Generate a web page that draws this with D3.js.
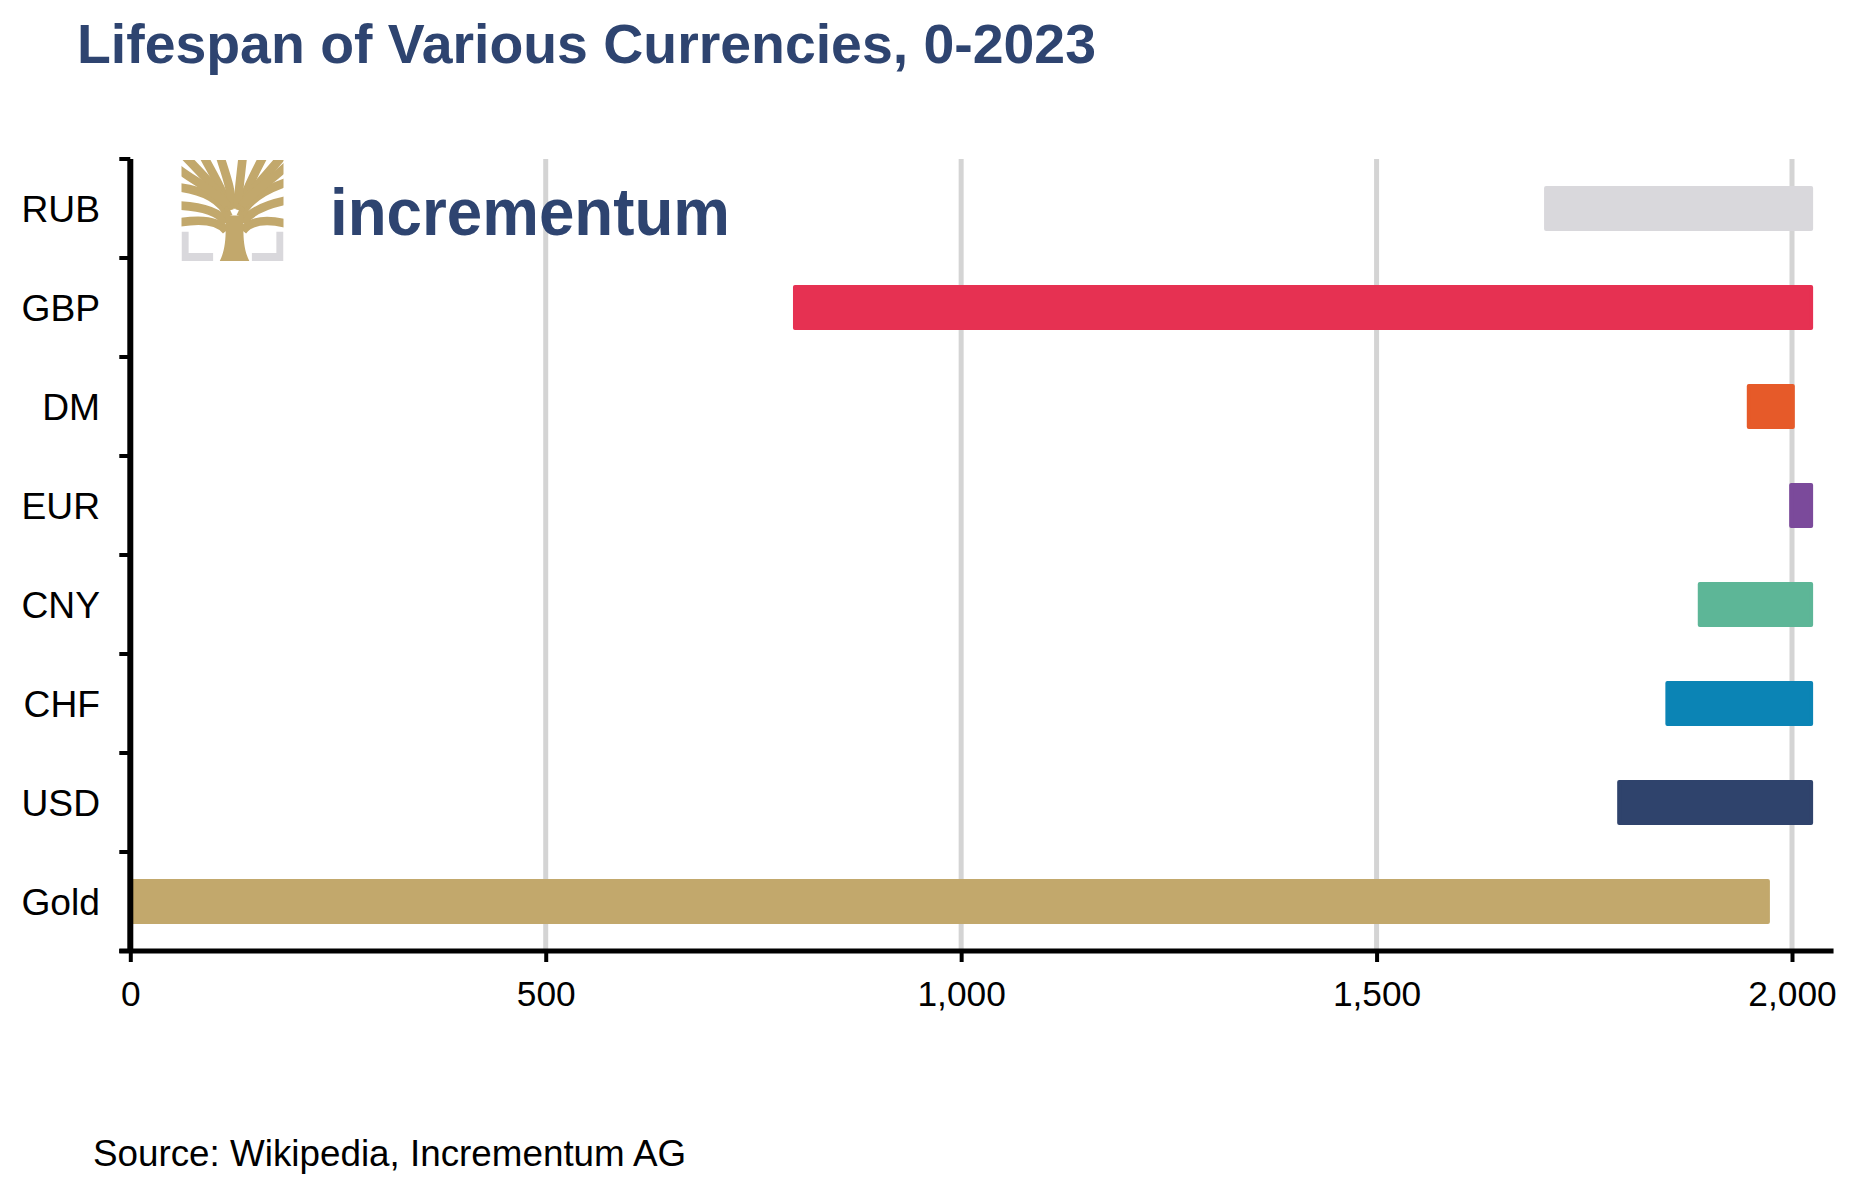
<!DOCTYPE html>
<html>
<head>
<meta charset="utf-8">
<script src="https://cdn.jsdelivr.net/npm/d3@7"></script>
<style>
  html, body { margin: 0; padding: 0; background: #ffffff; }
  svg { display: block; }
</style>
</head>
<body>
<svg id="chart" width="1850" height="1184"></svg>
<script>
// ---- data ----
const categories = ["RUB", "GBP", "DM", "EUR", "CNY", "CHF", "USD", "Gold"];
const startYears = [1704, 800, 1948, 1999, 1889, 1850, 1792, 0];
const endYears   = [2023, 2023, 2001, 2023, 2023, 2023, 2023, 1971];
const barColors  = ["#d9d8dc", "#e63152", "#e65a29", "#7b4a9b", "#5db697", "#0b84b5", "#2f436c", "#c2a86c"];
const tickValues = [0, 500, 1000, 1500, 2000];
const titleText  = "Lifespan of Various Currencies, 0-2023";
const sourceText = "Source: Wikipedia, Incrementum AG";
const logoText   = "incrementum";

const FONT = "'Liberation Sans', Arial, Helvetica, sans-serif";
const svg = d3.select("#chart");

const x = d3.scaleLinear().domain([0, 2000]).range([130.3, 1792]);
const y = d3.scaleBand().domain(categories).range([159, 951]).padding(0);
const barH = 41;

// title
svg.append("text")
  .attr("x", 77).attr("y", 63)
  .attr("font-family", FONT).attr("font-weight", "bold")
  .attr("font-size", 55.4).attr("fill", "#2e4470")
  .text(titleText);

// gridlines
svg.append("g").selectAll("line")
  .data(tickValues.filter(d => d > 0))
  .join("line")
  .attr("x1", d => x(d)).attr("x2", d => x(d))
  .attr("y1", y.range()[0]).attr("y2", y.range()[1])
  .attr("stroke", "#d4d4d4").attr("stroke-width", 5);

// logo
const logo = svg.append("g").attr("transform", "translate(181.5,160) scale(1.02,1.01)");
logo.append("clipPath").attr("id", "iconclip")
  .append("rect").attr("x", 0).attr("y", 0).attr("width", 100).attr("height", 100);
const icon = logo.append("g").attr("clip-path", "url(#iconclip)");
const gold = "#c2a86c", grey = "#d9d8dc";
icon.append("path").attr("fill", grey)
  .attr("d", "M0,71 L7,71 L7,92 L31,92 L31,100 L0,100 Z");
icon.append("path").attr("fill", grey)
  .attr("d", "M100,71 L93,71 L93,92 L69,92 L69,100 L100,100 Z");
const branches = [
  "M44,70 C36,60 20,58 -3,62",
  "M60,70 C68,60 82,58 103,63",
  "M44,62 C36,50 18,46 -3,45",
  "M60,62 C68,50 84,44 103,40",
  "M46,56 C40,40 22,30 -3,27",
  "M58,56 C64,40 80,30 103,22",
  "M47,50 C42,32 32,16 22,-3",
  "M57,50 C62,32 70,16 80,-3",
  "M49,48 C50,32 44,16 38,-3",
  "M55,48 C56,30 58,16 60,-3",
  "M45,46 C36,30 20,14 4,-3",
  "M59,46 C68,30 84,14 98,-3",
  "M45,45 C32,30 14,22 -3,9",
  "M59,45 C72,30 88,20 103,6"
];
icon.append("g").selectAll("path").data(branches).join("path")
  .attr("d", d => d).attr("fill", "none")
  .attr("stroke", gold).attr("stroke-width", 8.5);
icon.append("path").attr("fill", gold)
  .attr("d", "M37,101 C43,90 44,76 43,55 L61,55 C60,76 61,90 67,101 Z");

svg.append("text")
  .attr("x", 330).attr("y", 235)
  .attr("font-family", FONT).attr("font-weight", "bold")
  .attr("font-size", 67).attr("fill", "#2e4470")
  .attr("textLength", 400).attr("lengthAdjust", "spacingAndGlyphs")
  .text(logoText);

// bars
svg.append("g").selectAll("rect")
  .data(categories)
  .join("rect")
  .attr("x", (d, i) => x(startYears[i]))
  .attr("width", (d, i) => x(endYears[i]) - x(startYears[i]))
  .attr("y", d => y(d) + (y.bandwidth() - barH) / 2)
  .attr("height", barH)
  .attr("fill", (d, i) => barColors[i])
  .attr("stroke", (d, i) => barColors[i])
  .attr("stroke-width", 4)
  .attr("stroke-linejoin", "round");

// x axis
const xAxis = svg.append("g")
  .attr("transform", `translate(0,${y.range()[1]})`)
  .call(d3.axisBottom(x).tickValues(tickValues).tickSize(11).tickSizeOuter(0).tickFormat(d3.format(",")));
xAxis.select(".domain").remove();
xAxis.selectAll(".tick line").attr("stroke", "#000").attr("stroke-width", 4);
xAxis.selectAll(".tick text")
  .attr("font-family", FONT).attr("font-size", 35.3).attr("fill", "#000")
  .attr("y", 0).attr("dy", 0)
  .attr("transform", "translate(0,55)");

svg.append("line")
  .attr("x1", x(0) - 11).attr("x2", x(2050))
  .attr("y1", y.range()[1]).attr("y2", y.range()[1])
  .attr("stroke", "#000").attr("stroke-width", 5);

// y axis
const boundaries = categories.map(c => y(c)).concat([y.range()[1]]);
svg.append("g").selectAll("line")
  .data(boundaries).join("line")
  .attr("x1", x(0) - 11).attr("x2", x(0))
  .attr("y1", d => d).attr("y2", d => d)
  .attr("stroke", "#000").attr("stroke-width", 4);
svg.append("line")
  .attr("x1", x(0)).attr("x2", x(0))
  .attr("y1", y.range()[0]).attr("y2", y.range()[1] + 2)
  .attr("stroke", "#000").attr("stroke-width", 6);

svg.append("g").selectAll("text")
  .data(categories).join("text")
  .attr("x", 100)
  .attr("y", d => y(d) + y.bandwidth() / 2 + 13)
  .attr("text-anchor", "end")
  .attr("font-family", FONT).attr("font-size", 37.2).attr("fill", "#000")
  .text(d => d);

// source
svg.append("text")
  .attr("x", 93).attr("y", 1166)
  .attr("font-family", FONT).attr("font-size", 36.8).attr("fill", "#000")
  .text(sourceText);
</script>
</body>
</html>
